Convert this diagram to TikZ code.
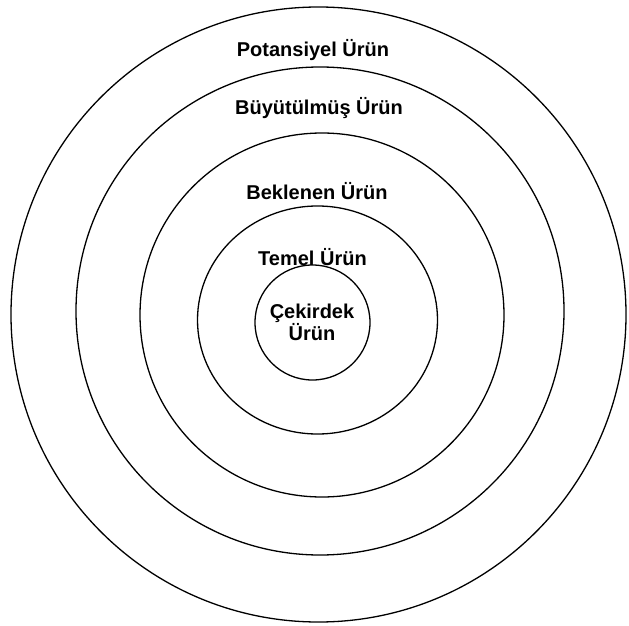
\documentclass[tikz,border=0pt]{standalone}
\usepackage{fontspec}
\setmainfont{Liberation Sans}
\begin{document}
\begin{tikzpicture}[x=1pt,y=-1pt,
  ring/.style={draw=black, line width=1.3pt},
  lbl/.style={font=\bfseries\fontsize{20}{22}\selectfont, align=center, inner sep=0pt}]
\useasboundingbox (0,0) rectangle (629,626);
\draw[ring] (318.5,314.5) circle [radius=307.5];
\draw[ring] (320,311) circle [radius=244];
\draw[ring] (322,315) circle [radius=182];
\draw[ring] (317.5,320) ellipse [x radius=120, y radius=114];
\draw[ring] (312.5,322.5) circle [radius=57.5];
\node[lbl] (pot) at (313,50) {Potansiyel Ürün};
\node[lbl] (buy) at (319,108) {Büyütülmüş Ürün};
\node[lbl] (bek) at (317,191) {Beklenen Ürün};
\node[lbl] (tem) at (312.5,257) {Temel Ürün};
\node[lbl] (cek) at (312,322) {Çekirdek\\Ürün};
\end{tikzpicture}
\end{document}
